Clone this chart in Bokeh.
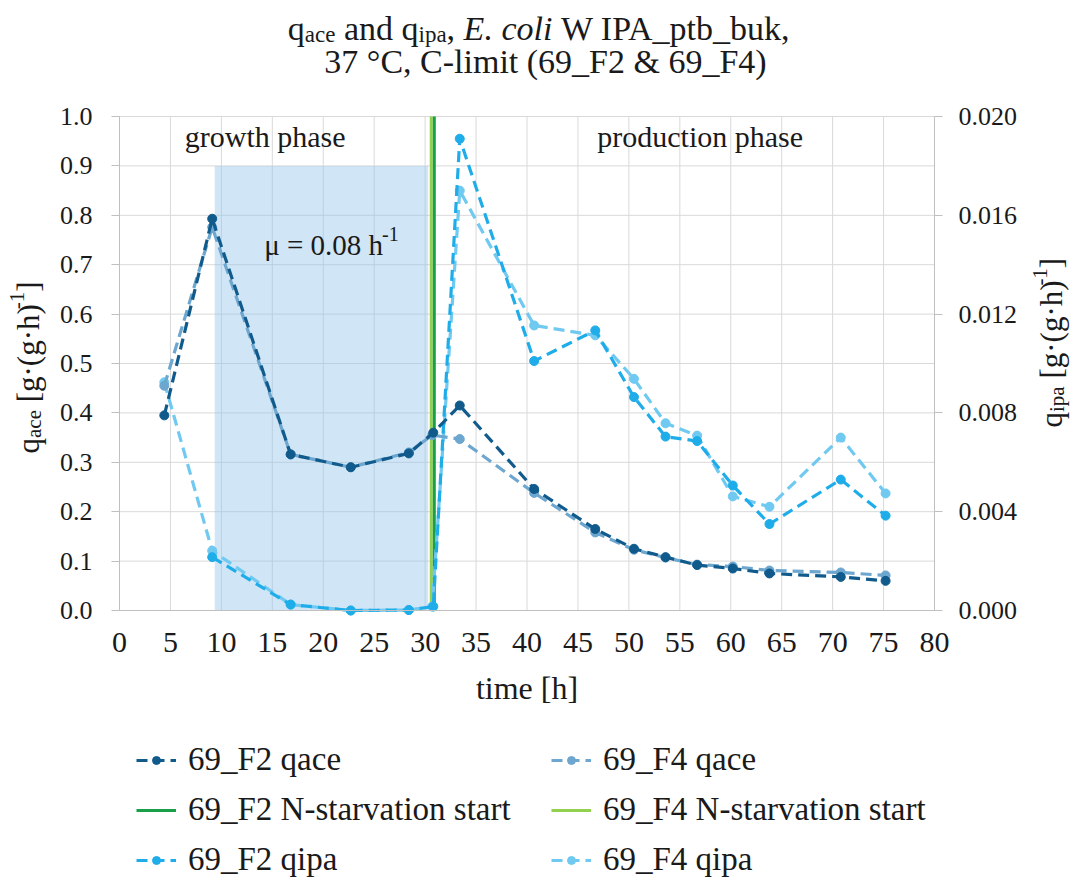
import math
from bokeh.plotting import figure
from bokeh.models import (Range1d, LinearAxis, Label, BoxAnnotation, Legend, LegendItem,
                          FixedTicker, PrintfTickFormatter)
from bokeh.embed import file_html
from bokeh.resources import INLINE

# ---------------- data ----------------
t_f2_ace = [4.4, 9.1, 16.8, 22.7, 28.4, 30.8, 33.4, 40.7, 46.7, 50.5, 53.6, 56.7, 60.2, 63.8, 70.8, 75.2]
q_f2_ace = [0.395, 0.793, 0.316, 0.290, 0.318, 0.360, 0.415, 0.246, 0.165, 0.125, 0.108, 0.092, 0.085, 0.075, 0.068, 0.060]

t_f4_ace = [4.4, 9.1, 16.8, 22.7, 28.4, 30.7, 33.4, 40.7, 46.7, 50.5, 53.6, 56.7, 60.2, 63.8, 70.8, 75.2]
q_f4_ace = [0.455, 0.776, 0.316, 0.290, 0.320, 0.355, 0.347, 0.238, 0.158, 0.123, 0.107, 0.093, 0.089, 0.081, 0.077, 0.071]

t_f2_ipa = [9.1, 16.8, 22.7, 28.4, 30.8, 33.4, 40.7, 46.7, 50.5, 53.6, 56.7, 60.2, 63.8, 70.8, 75.2]
q_f2_ipa = [0.00216, 0.00024, 0.0, 0.00002, 0.00016, 0.0191, 0.0101, 0.01134, 0.00864, 0.00704, 0.00686, 0.00506, 0.0035, 0.0053, 0.00384]

t_f4_ipa = [4.4, 9.1, 16.8, 22.7, 28.4, 30.7, 33.4, 40.7, 46.7, 50.5, 53.6, 56.7, 60.2, 63.8, 70.8, 75.2]
q_f4_ipa = [0.00924, 0.00242, 0.00024, 0.0, 0.00002, 0.00016, 0.0170, 0.01154, 0.01114, 0.00938, 0.00758, 0.00708, 0.00462, 0.0042, 0.0070, 0.00474]

n_starv_f2 = 30.9
n_starv_f4 = 30.6
growth_start = 9.35
growth_end = 30.3
growth_top = 0.9

x_min, x_max = 0, 80
ace_min, ace_max = 0.0, 1.0
ipa_min, ipa_max = 0.0, 0.02
x_ticks = list(range(0, 81, 5))
ace_ticks = [round(i * 0.1, 1) for i in range(11)]
ipa_ticks = [0.0, 0.004, 0.008, 0.012, 0.016, 0.020]

# ---------------- layout constants (canvas pixels) ----------------
W, H = 1078, 881
FL, FR, FT, FB = 119, 934, 116, 610   # chart area inside the canvas

FONT = "Liberation Serif"
TXT = "#1a1a1a"
C_F2_ACE = "#105b8c"
C_F4_ACE = "#6da6cf"
C_F2_IPA = "#1fadea"
C_F4_IPA = "#70c9f0"
C_F2_N = "#17a047"
C_F4_N = "#92d050"
GRID = "#d9d9d9"
AX = "#c0c0c0"

# ranges extended so that the data area lands at the chart area of the canvas
xs = (x_max - x_min) / (FR - FL)
ys = (ace_max - ace_min) / (FB - FT)
x_range = Range1d(x_min - FL * xs, x_max + (W - FR) * xs)
y_range = Range1d(ace_min - (H - FB) * ys, ace_max + FT * ys)
k = (ipa_max - ipa_min) / (ace_max - ace_min)
ipa_range = Range1d(ipa_min + (y_range.start - ace_min) * k, ipa_min + (y_range.end - ace_min) * k)

p = figure(width=W, height=H, x_range=x_range, y_range=y_range,
           x_axis_location=None, y_axis_location=None,
           output_backend="svg", toolbar_location=None, min_border=0)
p.extra_y_ranges = {"ipa": ipa_range}
p.outline_line_color = None
p.background_fill_color = "white"
p.border_fill_color = "white"
p.grid.visible = False

# grid lines (from the tick lists)
p.segment(x0=x_ticks, y0=[ace_min] * len(x_ticks), x1=x_ticks, y1=[ace_max] * len(x_ticks),
          line_color=GRID, line_width=1, level="underlay")
p.segment(x0=[x_min] * len(ace_ticks), y0=ace_ticks, x1=[x_max] * len(ace_ticks), y1=ace_ticks,
          line_color=GRID, line_width=1, level="underlay")

# axes placed at the chart borders
laxis = LinearAxis(fixed_location=x_min, bounds=(ace_min, ace_max))
raxis = LinearAxis(fixed_location=x_max, y_range_name="ipa", bounds=(ipa_min, ipa_max))
baxis = LinearAxis(fixed_location=ace_min, bounds=(x_min, x_max))
p.add_layout(laxis, "left")
p.add_layout(raxis, "right")
p.add_layout(baxis, "below")

for ax in [laxis, raxis]:
    ax.axis_line_color = AX
    ax.major_tick_line_color = AX
    ax.minor_tick_line_color = None
    ax.major_tick_in = 0
    ax.major_tick_out = 8
    ax.major_label_text_font = FONT
    ax.major_label_text_font_size = "26px"
    ax.major_label_text_color = TXT
    ax.major_label_standoff = 16
laxis.major_label_standoff = 19
laxis.ticker = FixedTicker(ticks=ace_ticks)
laxis.formatter = PrintfTickFormatter(format="%.1f")
raxis.ticker = FixedTicker(ticks=ipa_ticks)
raxis.formatter = PrintfTickFormatter(format="%.3f")

baxis.ticker = FixedTicker(ticks=x_ticks)
baxis.axis_line_color = AX
baxis.major_tick_line_color = None
baxis.minor_tick_line_color = None
baxis.major_tick_out = 0
baxis.major_tick_in = 0
baxis.major_label_text_font = FONT
baxis.major_label_text_font_size = "30px"
baxis.major_label_text_color = TXT
baxis.major_label_standoff = 22

# growth phase shading
p.add_layout(BoxAnnotation(left=growth_start, right=growth_end, bottom=ace_min, top=growth_top,
                           fill_color="#8fc2e6", fill_alpha=0.42, line_color=None, level="underlay"))

# N-starvation lines
r_n4 = p.line([n_starv_f4, n_starv_f4], [ace_min, ace_max], line_color=C_F4_N, line_width=3)
r_n2 = p.line([n_starv_f2, n_starv_f2], [ace_min, ace_max], line_color=C_F2_N, line_width=3)


def series(x, y, color, yr="default"):
    rl = p.line(x, y, line_color=color, line_width=3.2, line_dash="11 6", y_range_name=yr)
    rs = p.scatter(x, y, size=9, fill_color=color, line_color=color, y_range_name=yr)
    return [rl, rs]


r_f4_ipa = series(t_f4_ipa, q_f4_ipa, C_F4_IPA, "ipa")
r_f2_ipa = series(t_f2_ipa, q_f2_ipa, C_F2_IPA, "ipa")
r_f4_ace = series(t_f4_ace, q_f4_ace, C_F4_ACE)
r_f2_ace = series(t_f2_ace, q_f2_ace, C_F2_ACE)

legend = Legend(items=[
    LegendItem(label="69_F2 qace", renderers=r_f2_ace),
    LegendItem(label="69_F4 qace", renderers=r_f4_ace),
    LegendItem(label="69_F2 N-starvation start", renderers=[r_n2]),
    LegendItem(label="69_F4 N-starvation start", renderers=[r_n4]),
    LegendItem(label="69_F2 qipa", renderers=r_f2_ipa),
    LegendItem(label="69_F4 qipa", renderers=r_f4_ipa),
], orientation="horizontal", ncols=2, location=(136, 3))
legend.label_text_font = FONT
legend.label_text_font_size = "33px"
legend.label_text_color = TXT
legend.glyph_width = 40
legend.label_standoff = 12
legend.label_width = 350
legend.spacing = 13
legend.margin = 0
legend.padding = 0
legend.border_line_color = None
legend.background_fill_alpha = 0
p.add_layout(legend)

# ---------------- text helpers ----------------
W_ROMAN = {" ": 250, "!": 333, "&": 778, "(": 333, ")": 333, ",": 250, "-": 333, ".": 250, "_": 500,
           "[": 333, "]": 333, "=": 564, "·": 250, "°": 400, "μ": 500,
           "A": 722, "C": 667, "E": 611, "F": 556, "I": 333, "N": 722, "P": 556, "W": 944,
           "a": 444, "b": 500, "c": 444, "d": 500, "e": 444, "f": 333, "g": 500, "h": 500, "i": 278,
           "k": 500, "l": 278, "m": 778, "n": 500, "o": 500, "p": 500, "q": 500, "r": 333, "s": 389,
           "t": 278, "u": 500, "v": 500, "w": 722}


def tw(text, size):
    return sum(W_ROMAN.get(ch, 500) for ch in text) / 1000.0 * size


def rich(pieces, x0, y0, angle=0.0, center=False):
    """pieces of (text, size, downward shift, style) laid along one baseline from canvas (x0, y0)"""
    total = sum(tw(t, s) for t, s, _, _ in pieces)
    pos = -total / 2 if center else 0.0
    for text, size, shift, style in pieces:
        lead = len(text) - len(text.lstrip(" "))
        core = text.strip(" ")
        pos += tw(" " * lead, size)
        if angle == 0:
            cx, cy = x0 + pos, y0 + shift
        else:
            cx, cy = x0 + shift, y0 - pos
        p.add_layout(Label(x=cx, y=H - cy, x_units="screen", y_units="screen", text=core,
                           angle=angle, text_font=FONT, text_font_size=f"{size}px",
                           text_font_style=style, text_align="left", text_baseline="alphabetic",
                           text_color=TXT))
        pos += tw(text[lead:], size)


def data_x(x):
    return FL + (x - x_min) / (x_max - x_min) * (FR - FL)


DY = 11  # rendering offset of the alphabetic baseline
TS, TSS = 34, 23
rich([("q", TS, 0, "normal"), ("ace", TSS, 6, "normal"), (" and q", TS, 0, "normal"),
      ("ipa", TSS, 6, "normal"), (", ", TS, 0, "normal"), ("E. coli", TS, 0, "italic"),
      (" W IPA_ptb_buk,", TS, 0, "normal")], 540, 39 - DY, center=True)
rich([("37 °C, C-limit (69_F2 & 69_F4)", TS, 0, "normal")], 545, 72 - DY, center=True)

AS, ASS = 31, 21
rich([("q", AS, 0, "normal"), ("ace", ASS, 5, "normal"), (" [g·(g·h)", AS, 0, "normal"),
      ("-1", ASS, -12, "normal"), ("]", AS, 0, "normal")], 39 - DY, 453, angle=math.pi / 2)
rich([("q", AS, 0, "normal"), ("ipa", ASS, 5, "normal"), (" [g·(g·h)", AS, 0, "normal"),
      ("-1", ASS, -12, "normal"), ("]", AS, 0, "normal")], 1062 - DY, 427, angle=math.pi / 2)

rich([("time [h]", 32, 0, "normal")], data_x(40.0), 698 - DY, center=True)
rich([("growth phase", 30, 0, "normal")], data_x(14.3), 147 - DY, center=True)
rich([("production phase", 30, 0, "normal")], data_x(57.0), 147 - DY, center=True)
rich([("μ = 0.08 h", 29, 0, "normal"), ("-1", 20, -11, "normal")], data_x(20.8), 255 - DY, center=True)

open("out.html", "w").write(file_html(p, INLINE))
